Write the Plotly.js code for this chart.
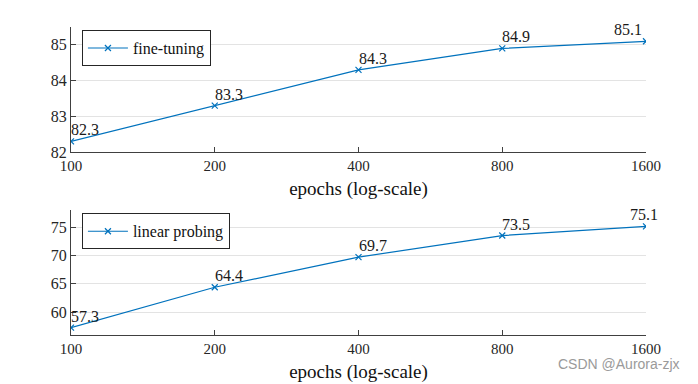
<!DOCTYPE html>
<html>
<head>
<meta charset="utf-8">
<script src="https://cdn.plot.ly/plotly-3.0.1.min.js"></script>
<style>
html,body{margin:0;padding:0;background:#fff;}
#chart{width:698px;height:384px;}
</style>
</head>
<body>
<div id="chart"></div>
<script>
const epochs = [100, 200, 400, 800, 1600];
const fineTuning = [82.3, 83.3, 84.3, 84.9, 85.1];
const linearProbing = [57.3, 64.4, 69.7, 73.5, 75.1];
const xTickLabels = ['100', '200', '400', '800', '1600'];
const topYTicks = [82, 83, 84, 85];
const bottomYTicks = [60, 65, 70, 75];
const xTitle = 'epochs (log-scale)';
const topName = 'fine-tuning';
const bottomName = 'linear probing';
const topLabelAnchor = ['left', 'left', 'left', 'left', 'right'];
const bottomLabelAnchor = ['left', 'left', 'left', 'left', 'center'];

const blue = '#0072BD';
const serif = 'Liberation Serif';
const axisColor = '#404040';

const traces = [
  {x: epochs, y: fineTuning, name: topName, type: 'scatter', mode: 'lines+markers',
   line: {color: blue, width: 1.2}, marker: {symbol: 'x-thin', size: 6, color: blue, line: {color: blue, width: 1.2}},
   xaxis: 'x', yaxis: 'y', legend: 'legend'},
  {x: epochs, y: linearProbing, name: bottomName, type: 'scatter', mode: 'lines+markers',
   line: {color: blue, width: 1.2}, marker: {symbol: 'x-thin', size: 6, color: blue, line: {color: blue, width: 1.2}},
   xaxis: 'x2', yaxis: 'y2', legend: 'legend2'}
];

const annotations = [];
epochs.forEach((e, i) => {
  annotations.push({x: Math.log10(e), y: fineTuning[i], xref: 'x', yref: 'y', text: fineTuning[i].toFixed(1),
    showarrow: false, xanchor: topLabelAnchor[i], yanchor: 'bottom', yshift: 1, xshift: -2,
    font: {family: serif, size: 16, color: '#1a1a1a'}});
  annotations.push({x: Math.log10(e), y: linearProbing[i], xref: 'x2', yref: 'y2', text: linearProbing[i].toFixed(1),
    showarrow: false, xanchor: bottomLabelAnchor[i], yanchor: 'bottom', yshift: 1, xshift: -2,
    font: {family: serif, size: 16, color: '#1a1a1a'}});
});
annotations.push({x: 1, y: 0, xref: 'paper', yref: 'paper', xanchor: 'right', yanchor: 'top',
  xshift: 36, yshift: -19, text: 'CSDN @Aurora-zjx', showarrow: false,
  font: {family: 'Liberation Sans', size: 14, color: '#9a9a9a'}});

function xAxis(anchor) {
  return {
    type: 'log', anchor: anchor, range: [Math.log10(100), Math.log10(1600)],
    tickvals: epochs, ticktext: xTickLabels, ticks: 'inside', ticklen: 5, tickcolor: axisColor,
    showline: true, linecolor: axisColor, linewidth: 1, showgrid: false, zeroline: false,
    tickfont: {family: serif, size: 15, color: '#262626'},
    title: {text: xTitle, font: {family: serif, size: 19, color: '#111'}, standoff: 8}
  };
}
function yAxis(domain, range, ticks, anchor) {
  return {
    domain: domain, range: range, anchor: anchor, tickvals: ticks, ticks: 'inside', ticklen: 5, tickcolor: axisColor,
    showline: true, linecolor: axisColor, linewidth: 1, showgrid: true, gridcolor: '#e3e3e3', gridwidth: 1,
    zeroline: false, tickfont: {family: serif, size: 16, color: '#262626'}
  };
}

const layout = {
  width: 698, height: 384,
  margin: {l: 71, r: 52, t: 27, b: 49},
  paper_bgcolor: '#fff', plot_bgcolor: '#fff',
  showlegend: true,
  xaxis: xAxis('y'),
  yaxis: yAxis([0.594, 1], [82, 85.5], topYTicks, 'x'),
  xaxis2: xAxis('y2'),
  yaxis2: yAxis([0, 0.406], [56, 78], bottomYTicks, 'x2'),
  legend: {x: 0.019, y: 0.99, xanchor: 'left', yanchor: 'top', bordercolor: '#262626', borderwidth: 1,
    bgcolor: '#fff', font: {family: serif, size: 16, color: '#111'}, tracegroupgap: 0, itemwidth: 40},
  legend2: {x: 0.019, y: 0.395, xanchor: 'left', yanchor: 'top', bordercolor: '#262626', borderwidth: 1,
    bgcolor: '#fff', font: {family: serif, size: 16, color: '#111'}, tracegroupgap: 0, itemwidth: 40},
  annotations: annotations
};

Plotly.newPlot('chart', traces, layout, {displayModeBar: false, staticPlot: true});
</script>
</body>
</html>
